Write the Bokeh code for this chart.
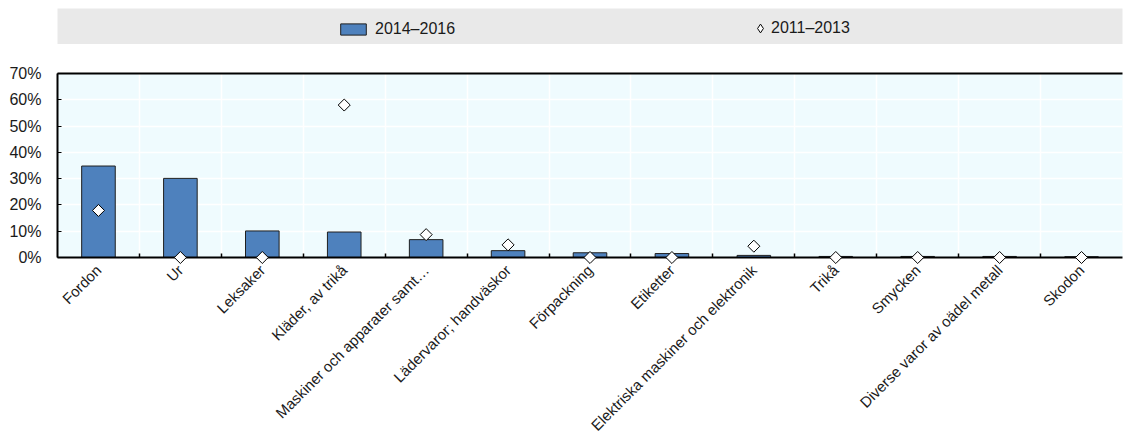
import math
from bokeh.plotting import figure
from bokeh.models import (FactorRange, Range1d, LinearAxis, CategoricalAxis, FixedTicker,
                          PrintfTickFormatter, Grid, Legend, LegendItem)
from bokeh.layouts import column
from bokeh.embed import file_html
from bokeh.resources import INLINE

categories = ["Fordon", "Ur", "Leksaker", "Kläder, av trikå", "Maskiner och apparater samt…",
              "Lädervaror; handväskor", "Förpackning", "Etiketter",
              "Elektriska maskiner och elektronik", "Trikå", "Smycken",
              "Diverse varor av oädel metall", "Skodon"]
share_2014_2016 = [34.8, 30.1, 10.1, 9.7, 6.8, 2.6, 1.8, 1.5, 0.8, 0.4, 0.4, 0.4, 0.3]
share_2011_2013 = [17.9, 0.0, 0.0, 58.0, 8.7, 4.8, 0.0, 0.0, 4.3, 0.0, 0.0, 0.0, 0.0]
y_ticks = [0, 10, 20, 30, 40, 50, 60, 70]
series_labels = ["2014–2016", "2011–2013"]

FONT = "Liberation Sans"
FS = "16px"
CAT_FS = "15px"
TEXT_COLOR = "#1A1A1A"
BAR_COLOR = "#4E81BD"
NAN = float("nan")

# ---------- legend band ----------
leg = figure(width=1126, height=44, frame_width=1065, frame_height=36,
             x_range=Range1d(0, 1), y_range=Range1d(0, 1),
             x_axis_location=None, y_axis_location=None,
             toolbar_location=None, output_backend="svg",
             min_border_left=57, min_border_right=4, min_border_top=8, min_border_bottom=0)
leg.background_fill_color = "#E9E9E9"
leg.border_fill_color = "white"
leg.outline_line_color = None
leg.xgrid.grid_line_color = None
leg.ygrid.grid_line_color = None
# legend-only renderers (no visible data point)
r_bar_leg = leg.vbar(x=[NAN], top=[NAN], width=0.1, fill_color=BAR_COLOR, line_color="#1F1F1F")
r_dia_leg = leg.scatter(x=[NAN], y=[NAN], marker="diamond", size=6,
                        fill_color="white", line_color="black")
l1 = Legend(items=[LegendItem(label=series_labels[0], renderers=[r_bar_leg])],
            location=(280, 6), padding=0, margin=0, border_line_color=None,
            background_fill_alpha=0, glyph_width=32, glyph_height=14, label_standoff=6,
            label_text_font=FONT, label_text_font_size=FS, label_text_color=TEXT_COLOR)
l2 = Legend(items=[LegendItem(label=series_labels[1], renderers=[r_dia_leg])],
            location=(692, 5), padding=0, margin=0, border_line_color=None,
            background_fill_alpha=0, glyph_width=22, glyph_height=22, label_standoff=0,
            label_text_font=FONT, label_text_font_size=FS, label_text_color=TEXT_COLOR)
leg.add_layout(l1, "center")
leg.add_layout(l2, "center")

# ---------- main chart ----------
p = figure(width=1126, frame_width=1065, frame_height=184,
           x_range=FactorRange(*categories), y_range=Range1d(0, 70),
           x_axis_location=None, y_axis_location="left",
           toolbar_location=None, output_backend="svg",
           min_border_left=57, min_border_right=4, min_border_top=29, min_border_bottom=2)
p.background_fill_color = "#EFFBFE"
p.border_fill_color = "white"
p.outline_line_color = None
for g in p.xgrid:
    g.grid_line_color = None

ya = p.yaxis[0]
ya.ticker = FixedTicker(ticks=y_ticks)
ya.formatter = PrintfTickFormatter(format="%d%%")
ya.major_tick_in = 4
ya.major_tick_out = 0
ya.minor_tick_line_color = None
ya.axis_line_width = 2
ya.axis_line_color = "black"
ya.major_tick_line_color = "black"
ya.major_label_standoff = 16
ya.major_label_text_font = FONT
ya.major_label_text_font_size = FS
ya.major_label_text_color = TEXT_COLOR

p.ygrid.ticker = FixedTicker(ticks=y_ticks)
p.ygrid.grid_line_color = "white"
p.ygrid.grid_line_width = 1.5

boundaries = list(range(1, len(categories)))
xgrid = Grid(dimension=0, ticker=FixedTicker(ticks=boundaries),
             grid_line_color="white", grid_line_width=1.5)
p.add_layout(xgrid)

top_axis = LinearAxis(ticker=FixedTicker(ticks=[]), axis_line_width=2, axis_line_color="black",
                      major_tick_line_color=None, minor_tick_line_color=None,
                      major_label_standoff=0)
p.add_layout(top_axis, "above")

# boundary ticks drawn as minor ticks (no labels)
tick_axis = LinearAxis(ticker=FixedTicker(ticks=[], minor_ticks=boundaries),
                       axis_line_width=2, axis_line_color="black",
                       major_tick_line_color=None,
                       minor_tick_line_color="black", minor_tick_line_width=1.5,
                       minor_tick_in=4, minor_tick_out=0, major_label_standoff=0)
p.add_layout(tick_axis, "below")

cat_axis = CategoricalAxis(axis_line_color=None, major_tick_line_color=None,
                           minor_tick_line_color=None,
                           major_label_orientation=math.pi / 4, major_label_standoff=4,
                           major_label_text_font=FONT, major_label_text_font_size=CAT_FS,
                           major_label_text_color=TEXT_COLOR)
p.add_layout(cat_axis, "below")

p.vbar(x=categories, top=share_2014_2016, width=0.41, fill_color=BAR_COLOR,
       line_color="#1F1F1F", line_width=1)
p.scatter(x=categories, y=share_2011_2013, marker="square", angle=math.pi / 4, size=8.5,
          fill_color="white", line_color="black", line_width=1, level="overlay")

layout = column(leg, p, spacing=0)
open("out.html", "w").write(file_html(layout, INLINE))
